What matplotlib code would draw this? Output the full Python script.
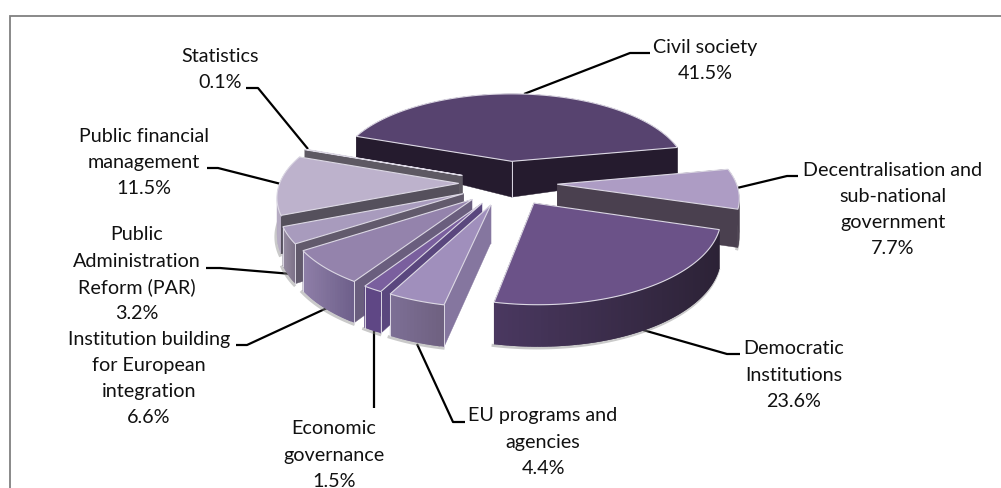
import numpy as np
import matplotlib
matplotlib.use("Agg")
import matplotlib.pyplot as plt
from matplotlib.patches import Polygon
from matplotlib.colors import to_rgb

# data
names = ["Civil society", "Decentralisation and\nsub-national\ngovernment", "Democratic\nInstitutions",
         "EU programs and\nagencies", "Economic\ngovernance", "Institution building\nfor European\nintegration",
         "Public\nAdministration\nReform (PAR)", "Public financial\nmanagement", "Statistics"]
values = [41.5, 7.7, 23.6, 4.4, 1.5, 6.6, 3.2, 11.5, 0.1]

# styles: top, radial wall, arc wall left, arc wall right
top_colors = ["#57436f", "#ad9cc4", "#6b5288", "#a08fbc", "#7a5f9e", "#9483ac", "#a89bbd", "#bdb2cc", "#a0a0a0"]
wall_colors = ["#251b2e", "#4a404f", "#2c2236", "#85769f", "#5a477e", "#6a5e7e", "#625a6c", "#55505c", "#5e5963"]
arc_left = ["#251b2e", "#4a404f", "#4a3860", "#7d6f96", "#5f4785", "#8f7fa8", "#968ba2", "#b5abc2", "#5e5963"]
arc_right = ["#251b2e", "#4a404f", "#2c2236", "#6e6080", "#5f4785", "#6d5f8a", "#7d7288", "#b5abc2", "#5e5963"]
draw_order = [0, 8, 7, 6, 5, 4, 3, 1, 2]

# label layout: centre x, first-line centre y, leader polyline
label_x = [705, 893, 794, 543, 334, 149, 137, 144, 220]
label_y = [47, 170, 349, 416, 429, 339, 235, 136, 56]
leaders = [[(524, 94), (630, 53), (650, 53)],
           [(737, 188), (787, 176), (798, 176)],
           [(643, 330), (727, 354), (740, 354)],
           [(417, 344), (453, 422), (465, 422)],
           [(374, 331), (374, 408)],
           [(327, 308), (247, 345), (236, 345)],
           [(292, 274), (220, 268), (206, 268)],
           [(281, 184), (218, 168), (207, 168)],
           [(308, 149), (258, 88), (246, 88)]]
LINE = 26.2

# projection
CX, CY, A, B, P, EXPL = 508, 183, 179, 82, 0.135, 0.275
START = 160.0


def project(X, Y):
    s = 1 / (1 + P * Y)
    return CX + A * X * s, CY - B * Y * s


def depth(Y):
    return np.interp(Y, [-1.2, 0.27, 0.45, 0.61], [42, 36, 27, 22])


fig = plt.figure(figsize=(10.01, 4.88), dpi=100)
ax = fig.add_axes([0, 0, 1, 1])
ax.set_xlim(0, 1001)
ax.set_ylim(488, 0)
ax.axis("off")
plt.rcParams["font.family"] = ["Lato", "DejaVu Sans"]

# frame (top and left only)
ax.plot([10, 10, 1001], [488, 15.5, 15.5], color="#808080", lw=1.3, solid_joinstyle="miter")

total = sum(values)
edges = START - np.concatenate([[0], np.cumsum(values)]) / total * 360
EDGE = "#dcd8e4"

for i in draw_order:
    a0, a1 = np.radians(edges[i]), np.radians(edges[i + 1])
    mid = (a0 + a1) / 2
    ox, oy = EXPL * np.cos(mid), EXPL * np.sin(mid)
    th = np.linspace(a0, a1, max(int(abs(a1 - a0) * 60), 4))
    Xa, Ya = ox + np.cos(th), oy + np.sin(th)
    xa, ya = project(Xa, Ya)
    da = depth(Ya)
    xt, yt = project(np.array([ox]), np.array([oy]))
    dt = depth(np.array([oy]))

    zb = 2 + draw_order.index(i)
    # soft shadow under the solid
    ax.plot(xa - 1.0, ya + da + 1.2, color="#8a8a8a", lw=2.2, alpha=0.45, zorder=zb - 0.1)
    # radial walls
    for xe, ye, de in ((xa[0], ya[0], da[0]), (xa[-1], ya[-1], da[-1])):
        ax.add_patch(Polygon([(xt[0], yt[0]), (xe, ye), (xe, ye + de), (xt[0], yt[0] + dt[0])],
                             closed=True, fc=wall_colors[i], ec=wall_colors[i], lw=0.3, zorder=zb))
    # arc wall with horizontal shading: segments overlap so no seams appear
    cl, cr = np.array(to_rgb(arc_left[i])), np.array(to_rgb(arc_right[i]))
    span = max(xa.max() - xa.min(), 1)
    for k in range(len(th) - 1):
        m = min(k + 2, len(th) - 1)
        f = ((xa[k] + xa[k + 1]) / 2 - xa.min()) / span
        c = cl + (cr - cl) * f
        ax.add_patch(Polygon([(xa[k], ya[k]), (xa[m], ya[m]),
                              (xa[m], ya[m] + da[m]), (xa[k], ya[k] + da[k])],
                             closed=True, fc=c, ec="none", lw=0, zorder=zb + 0.1 + k * 1e-4))
    # edges of visible walls
    for xe, ye, de in ((xa[0], ya[0], da[0]), (xa[-1], ya[-1], da[-1])):
        if i in (3, 4, 5, 6):
            ax.plot([xe, xe], [ye, ye + de], color=EDGE, lw=0.7, zorder=zb + 0.2)
    if i in (0, 3, 4, 5):
        ax.plot([xt[0], xt[0]], [yt[0], yt[0] + dt[0]], color=EDGE, lw=0.7, zorder=zb + 0.15)
    # top face
    px = np.concatenate([xt, xa])
    py = np.concatenate([yt, ya])
    ax.add_patch(Polygon(np.column_stack([px, py]), closed=True, fc=top_colors[i], ec=EDGE, lw=0.8,
                         joinstyle="miter", zorder=zb + 0.3))

# labels and leaders
for name, v, lx, ly, pts in zip(names, values, label_x, label_y, leaders):
    lines = name.split("\n") + [f"{v}%"]
    for n, t in enumerate(lines):
        ax.text(lx, ly + n * LINE, t, ha="center", va="center", fontsize=14.2, color="#111111", zorder=30)
    ax.plot(*zip(*pts), color="black", lw=1.6, solid_capstyle="butt", zorder=1.5)

fig.savefig("out.png", dpi=100)
